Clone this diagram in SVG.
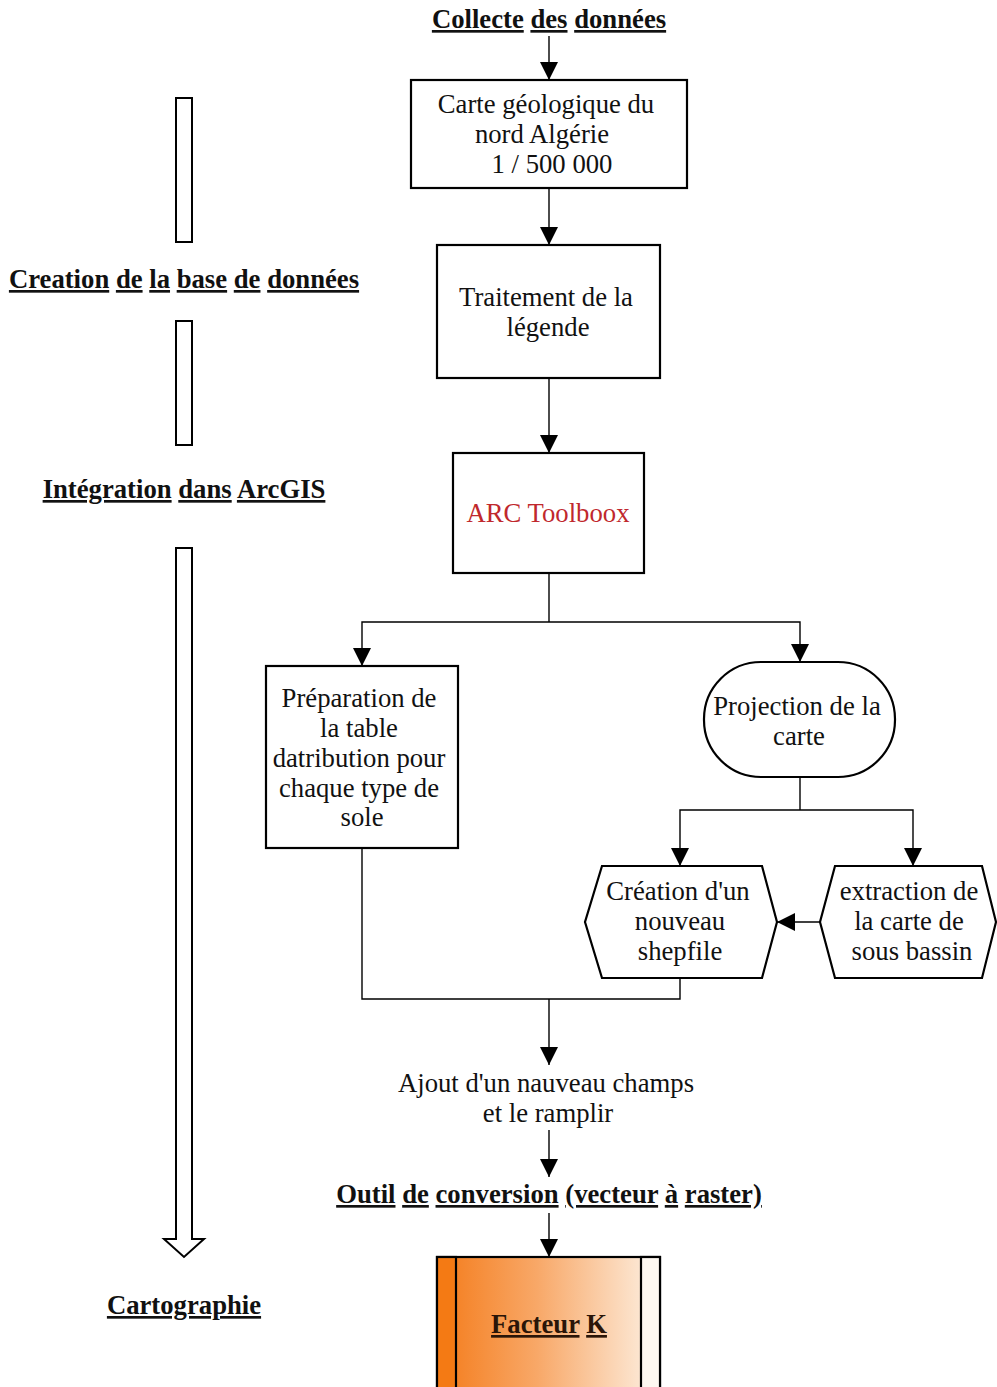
<svg xmlns="http://www.w3.org/2000/svg" width="997" height="1387" viewBox="0 0 997 1387">
  <defs>
    <marker id="arrow" markerUnits="userSpaceOnUse" markerWidth="18" markerHeight="22" viewBox="0 0 18 22" refX="18" refY="9" orient="auto">
      <path d="M0,0 L18,9 L0,18 Z" fill="#000"/>
    </marker>
    <linearGradient id="orange" x1="0" y1="0" x2="1" y2="0">
      <stop offset="0" stop-color="#f47b1a"/>
      <stop offset="0.45" stop-color="#f8a868"/>
      <stop offset="1" stop-color="#fdf1e4"/>
    </linearGradient>
    <style>
      .box { fill: #fff; stroke: #000; stroke-width: 2.2; }
      .bar { fill: #fff; stroke: #000; stroke-width: 2; }
      .wire { fill: none; stroke: #000; stroke-width: 1.4; }
      .lbl { font-family: "Liberation Serif", "Times New Roman", serif; font-size: 26.7px; fill: #111; text-anchor: middle; }
      .head { font-family: "Liberation Serif", "Times New Roman", serif; font-size: 26.7px; font-weight: bold; fill: #111; text-anchor: middle; }
      .u { text-decoration: underline; }
    </style>
  </defs>
  <rect width="997" height="1387" fill="#fff"/>

  <!-- left column: stage labels and progress bars -->
  <g id="stages">
    <rect class="bar" x="176" y="98" width="16" height="144"/>
    <text class="head" x="184" y="288"><tspan class="u">Creation</tspan> <tspan class="u">de</tspan> <tspan class="u">la</tspan> <tspan class="u">base</tspan> <tspan class="u">de</tspan> <tspan class="u">données</tspan></text>
    <rect class="bar" x="176" y="321" width="16" height="124"/>
    <text class="head" x="184" y="498"><tspan class="u">Intégration</tspan> <tspan class="u">dans</tspan> <tspan class="u">ArcGIS</tspan></text>
    <path class="bar" d="M176,548 L192,548 L192,1239 L204,1239 L184,1257 L164,1239 L176,1239 Z"/>
    <text class="head" x="184" y="1314"><tspan class="u">Cartographie</tspan></text>
  </g>

  <!-- connectors -->
  <g id="connectors">
    <line class="wire" x1="549" y1="36" x2="549" y2="80" marker-end="url(#arrow)"/>
    <line class="wire" x1="549" y1="188" x2="549" y2="245" marker-end="url(#arrow)"/>
    <line class="wire" x1="549" y1="378" x2="549" y2="453" marker-end="url(#arrow)"/>
    <polyline class="wire" points="549,573 549,622"/>
    <polyline class="wire" points="549,622 362,622 362,666" marker-end="url(#arrow)"/>
    <polyline class="wire" points="549,622 800,622 800,662" marker-end="url(#arrow)"/>
    <polyline class="wire" points="800,777 800,810"/>
    <polyline class="wire" points="800,810 680,810 680,866" marker-end="url(#arrow)"/>
    <polyline class="wire" points="800,810 913,810 913,866" marker-end="url(#arrow)"/>
    <line class="wire" x1="820" y1="922" x2="777" y2="922" marker-end="url(#arrow)"/>
    <polyline class="wire" points="362,848 362,999 680,999 680,978"/>
    <line class="wire" x1="549" y1="999" x2="549" y2="1065" marker-end="url(#arrow)"/>
    <line class="wire" x1="549" y1="1130" x2="549" y2="1177" marker-end="url(#arrow)"/>
    <line class="wire" x1="549" y1="1213" x2="549" y2="1257" marker-end="url(#arrow)"/>
  </g>

  <g id="collecte">
    <text class="head" x="549" y="28"><tspan class="u">Collecte</tspan> <tspan class="u">des</tspan> <tspan class="u">données</tspan></text>
  </g>

  <g id="carte">
    <rect class="box" x="411" y="80" width="276" height="108"/>
    <text class="lbl" x="546" y="113">Carte géologique du</text>
    <text class="lbl" x="542" y="143">nord Algérie</text>
    <text class="lbl" x="552" y="173">1 / 500 000</text>
  </g>

  <g id="traitement">
    <rect class="box" x="437" y="245" width="223" height="133"/>
    <text class="lbl" x="546" y="306">Traitement de la</text>
    <text class="lbl" x="548" y="336">légende</text>
  </g>

  <g id="toolbox">
    <rect class="box" x="453" y="453" width="191" height="120"/>
    <text class="lbl" x="548" y="522" style="fill:#c0282d">ARC Toolboox</text>
  </g>

  <g id="preparation">
    <rect class="box" x="266" y="666" width="192" height="182"/>
    <text class="lbl" x="359" y="707">Préparation de</text>
    <text class="lbl" x="359" y="737">la table</text>
    <text class="lbl" x="359" y="767">datribution pour</text>
    <text class="lbl" x="359" y="797">chaque type de</text>
    <text class="lbl" x="362" y="826">sole</text>
  </g>

  <g id="projection">
    <rect class="box" x="704" y="662" width="191" height="115" rx="57" ry="57"/>
    <text class="lbl" x="797" y="715">Projection de la</text>
    <text class="lbl" x="799" y="745">carte</text>
  </g>

  <g id="creation">
    <polygon class="box" points="602,866 762,866 777,922 762,978 602,978 585,922"/>
    <text class="lbl" x="678" y="900">Création d'un</text>
    <text class="lbl" x="680" y="930">nouveau</text>
    <text class="lbl" x="680" y="960">shepfile</text>
  </g>

  <g id="extraction">
    <polygon class="box" points="835,866 982,866 996,922 982,978 835,978 820,922"/>
    <text class="lbl" x="909" y="900">extraction de</text>
    <text class="lbl" x="909" y="930">la carte de</text>
    <text class="lbl" x="912" y="960">sous bassin</text>
  </g>

  <g id="ajout">
    <text class="lbl" x="546" y="1092">Ajout d'un nauveau champs</text>
    <text class="lbl" x="548" y="1122">et le ramplir</text>
  </g>

  <g id="conversion">
    <text class="head" x="549" y="1203"><tspan class="u">Outil</tspan> <tspan class="u">de</tspan> <tspan class="u">conversion</tspan> <tspan class="u">(vecteur</tspan> <tspan class="u">à</tspan> <tspan class="u">raster)</tspan></text>
  </g>

  <g id="facteur">
    <rect x="437" y="1257" width="223" height="140" fill="url(#orange)" stroke="#000" stroke-width="2.2"/>
    <rect x="437" y="1257" width="19" height="140" fill="#f47a14" stroke="#000" stroke-width="2.2"/>
    <rect x="641" y="1257" width="19" height="140" fill="#fdf7f0" stroke="#000" stroke-width="2.2"/>
    <text class="head" x="549" y="1333" style="fill:#2a1508"><tspan class="u">Facteur</tspan> <tspan class="u">K</tspan></text>
  </g>
</svg>
